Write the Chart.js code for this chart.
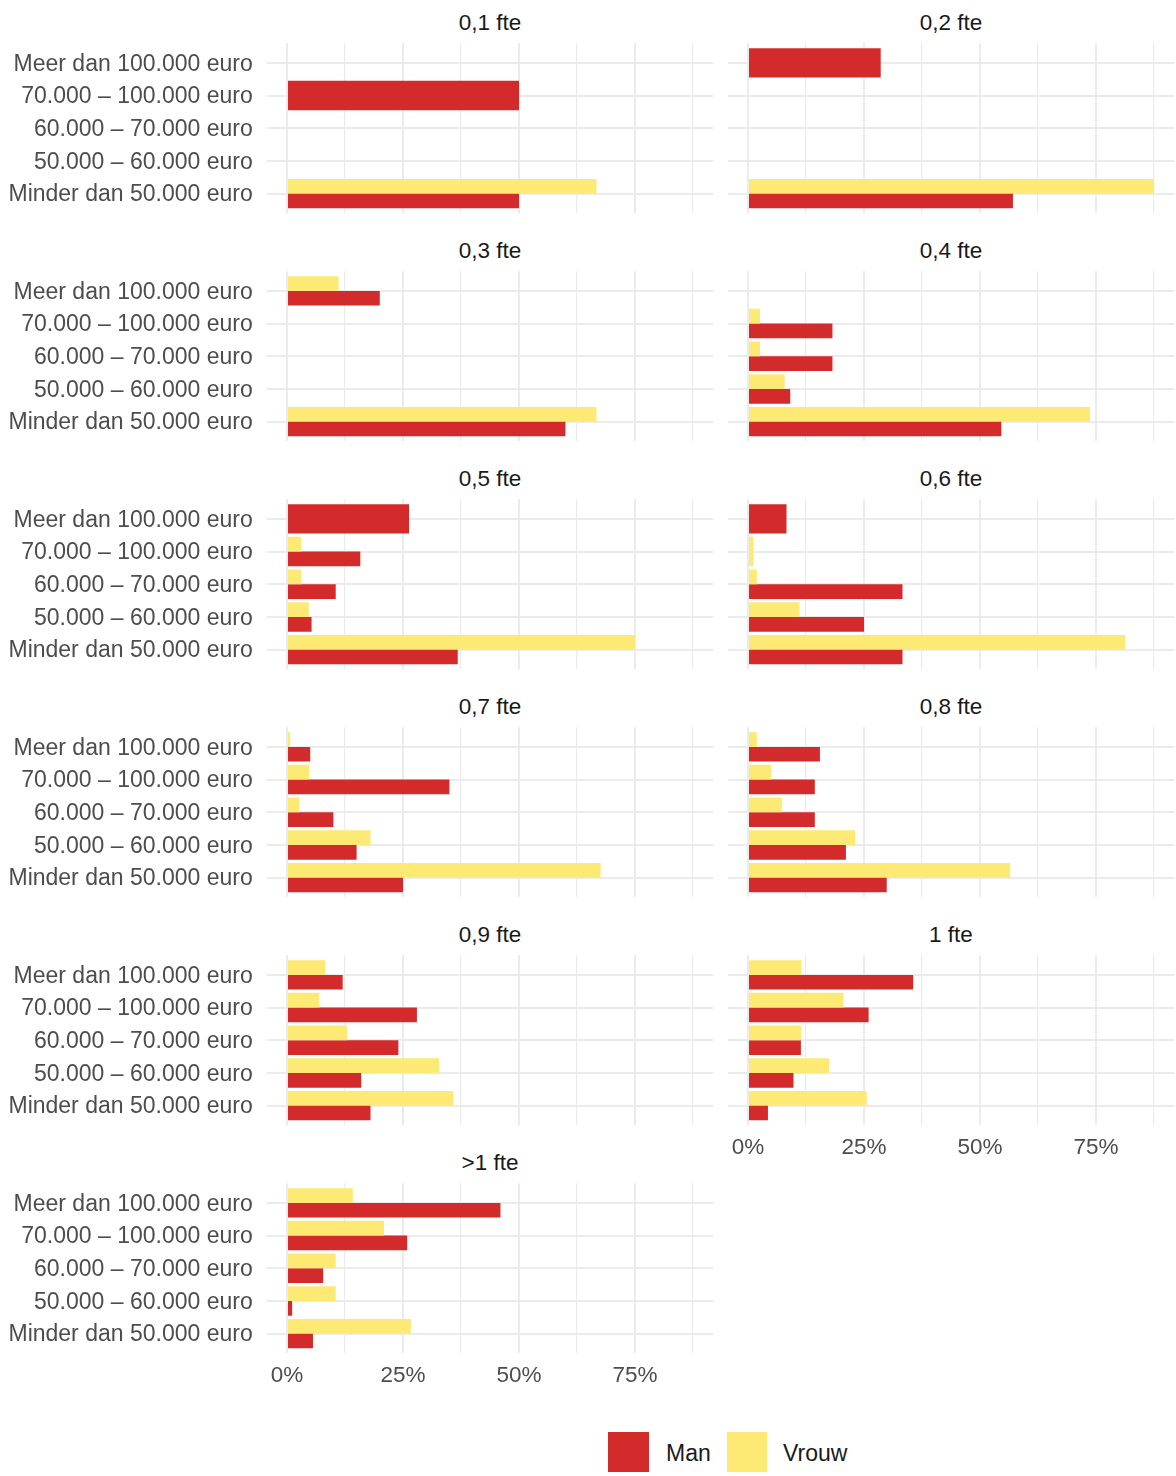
<!DOCTYPE html>
<html>
<head>
<meta charset="utf-8">
<script src="https://cdn.jsdelivr.net/npm/chart.js@4.4.1/dist/chart.umd.min.js"></script>
<style>
  html, body { margin: 0; padding: 0; background: #ffffff; }
  #wrap { position: relative; width: 1176px; height: 1476px; overflow: hidden; background: #ffffff; }
  #wrap canvas { position: absolute; }
  .ptitle { position: absolute; height: 28px; line-height: 28px; text-align: center; font-family: "Liberation Sans", Arial, sans-serif; font-size: 22.5px; color: #1a1a1a; white-space: nowrap; }
  .lg-box { position: absolute; height: 40px; }
  .lg-text { position: absolute; font-family: "Liberation Sans", Arial, sans-serif; font-size: 23px; color: #1a1a1a; line-height: 40px; }
</style>
</head>
<body>
<div id="wrap"></div>
<script>
// ---------- DATA ----------
const categories = [
  "Meer dan 100.000 euro",
  "70.000 – 100.000 euro",
  "60.000 – 70.000 euro",
  "50.000 – 60.000 euro",
  "Minder dan 50.000 euro"
];
const panelTitles = ["0,1 fte", "0,2 fte", "0,3 fte", "0,4 fte", "0,5 fte", "0,6 fte", "0,7 fte", "0,8 fte", "0,9 fte", "1 fte", ">1 fte"];
const seriesNames = ["Vrouw", "Man"];
const xTickValues = [0, 25, 50, 75];
const xMinorGridValues = [12.5, 37.5, 62.5, 87.5];

// values in % per panel, categories in order above (null = no bar)
const manValues = [
  [null, 50.0, null, null, 50.0],
  [28.6, null, null, null, 57.1],
  [20.0, null, null, null, 60.0],
  [null, 18.2, 18.2, 9.1, 54.6],
  [26.3, 15.8, 10.5, 5.3, 36.8],
  [8.3, null, 33.3, 25.0, 33.3],
  [5.0, 35.0, 10.0, 15.0, 25.0],
  [15.5, 14.4, 14.4, 21.1, 29.9],
  [12.0, 28.0, 24.0, 16.0, 18.0],
  [35.6, 26.0, 11.4, 9.8, 4.3],
  [46.0, 25.9, 7.8, 1.1, 5.6]
];
const vrouwValues = [
  [null, null, null, null, 66.7],
  [null, null, null, null, 87.5],
  [11.1, null, null, null, 66.7],
  [null, 2.6, 2.6, 7.9, 73.7],
  [null, 3.1, 3.1, 4.7, 75.0],
  [null, 1.2, 1.9, 11.1, 81.3],
  [0.7, 4.8, 2.7, 18.0, 67.6],
  [1.9, 5.0, 7.3, 23.1, 56.5],
  [8.3, 6.9, 13.0, 32.8, 35.9],
  [11.5, 20.6, 11.5, 17.5, 25.6],
  [14.2, 20.9, 10.5, 10.5, 26.7]
];

// ---------- STYLE / LAYOUT ----------
const RED = "#D32B2B";
const YELLOW = "#FDEA75";
const GRID = "#EBEBEB";
const FONT = "'Liberation Sans', Arial, sans-serif";
const X_MIN = -4.375, X_MAX = 91.875;
const ROW_H = 228;
const PANEL_TOP = 43.3;       // chart area top within a row
const PANEL_BOTTOM = 213.2;   // chart area bottom within a row
const TITLE_CY = 23;          // title centre within a row
const COLS = [
  { left: 0,   width: 720, axisW: 266.7, padRight: 6.7, showY: true },
  { left: 720, width: 456, axisW: 7.7,   padRight: 1.7, showY: false }
];

const wrap = document.getElementById("wrap");

panelTitles.forEach((title, p) => {
  const col = p % 2;
  const row = Math.floor(p / 2);
  const showX = (p + 2) >= panelTitles.length;
  const c = COLS[col];
  const H = showX ? 262 : ROW_H;
  const axisH = showX ? 40 : 0;
  const top = row * ROW_H;

  // facet title (real text)
  const areaLeft = c.left + c.axisW;
  const areaRight = c.left + c.width - c.padRight;
  const t = document.createElement("div");
  t.className = "ptitle";
  t.style.left = areaLeft + "px";
  t.style.width = (areaRight - areaLeft) + "px";
  t.style.top = (top + TITLE_CY - 14) + "px";
  t.textContent = title;
  wrap.appendChild(t);

  const canvas = document.createElement("canvas");
  canvas.width = c.width;
  canvas.height = H;
  canvas.style.left = c.left + "px";
  canvas.style.top = top + "px";
  canvas.style.width = c.width + "px";
  canvas.style.height = H + "px";
  wrap.appendChild(canvas);

  const mk = (vals) => categories.map((_, i) => ({ x: vals[i], y: i }));
  const noPad = (s) => { s.paddingTop = 0; s.paddingBottom = 0; s.paddingLeft = 0; s.paddingRight = 0; };

  new Chart(canvas, {
    type: "bar",
    data: {
      datasets: [
        { label: seriesNames[0], data: mk(vrouwValues[p]), backgroundColor: YELLOW, borderWidth: 0 },
        { label: seriesNames[1], data: mk(manValues[p]), backgroundColor: RED, borderWidth: 0 }
      ]
    },
    options: {
      indexAxis: "y",
      responsive: false,
      animation: false,
      events: [],
      skipNull: true,
      categoryPercentage: 0.9,
      barPercentage: 1.0,
      layout: { padding: { left: 0, right: c.padRight, top: PANEL_TOP, bottom: H - PANEL_BOTTOM - axisH } },
      plugins: {
        legend: { display: false },
        tooltip: { enabled: false },
        title: { display: false }
      },
      scales: {
        x: {
          type: "linear",
          min: X_MIN,
          max: X_MAX,
          offset: false,
          afterBuildTicks: (s) => {
            s.ticks = xTickValues.concat(xMinorGridValues).sort((a, b) => a - b).map(v => ({ value: v }));
          },
          afterFit: (s) => { s.height = axisH; noPad(s); },
          grid: {
            color: GRID,
            offset: false,
            lineWidth: (ctx) => (ctx.tick && xTickValues.includes(ctx.tick.value)) ? 2 : 1.2,
            drawTicks: false
          },
          border: { display: false },
          ticks: {
            display: showX,
            padding: 9,
            color: "#4D4D4D",
            font: { family: FONT, size: 22.5 },
            maxRotation: 0,
            autoSkip: false,
            callback: (v) => xTickValues.includes(v) ? v + "%" : ""
          }
        },
        y: {
          type: "linear",
          reverse: true,
          offset: false,
          min: -0.6,
          max: categories.length - 1 + 0.6,
          afterBuildTicks: (s) => {
            s.ticks = categories.map((_, i) => ({ value: i }));
          },
          afterFit: (s) => { s.width = c.axisW; noPad(s); },
          grid: { color: GRID, lineWidth: 2, drawTicks: false, offset: false },
          border: { display: false },
          ticks: {
            display: c.showY,
            padding: 14,
            labelOffset: 1.5,
            color: "#4D4D4D",
            font: { family: FONT, size: 23 },
            autoSkip: false,
            callback: (v) => categories[v]
          }
        }
      }
    }
  });
});

// ---------- LEGEND (HTML) ----------
const legendItems = [
  { name: seriesNames[1], color: RED, boxLeft: 608, boxW: 41, textLeft: 666 },
  { name: seriesNames[0], color: YELLOW, boxLeft: 727, boxW: 40, textLeft: 783 }
];
legendItems.forEach(it => {
  const b = document.createElement("div");
  b.className = "lg-box";
  b.style.left = it.boxLeft + "px";
  b.style.top = "1432px";
  b.style.width = it.boxW + "px";
  b.style.background = it.color;
  wrap.appendChild(b);
  const t = document.createElement("div");
  t.className = "lg-text";
  t.style.left = it.textLeft + "px";
  t.style.top = "1433px";
  t.textContent = it.name;
  wrap.appendChild(t);
});
</script>
</body>
</html>
